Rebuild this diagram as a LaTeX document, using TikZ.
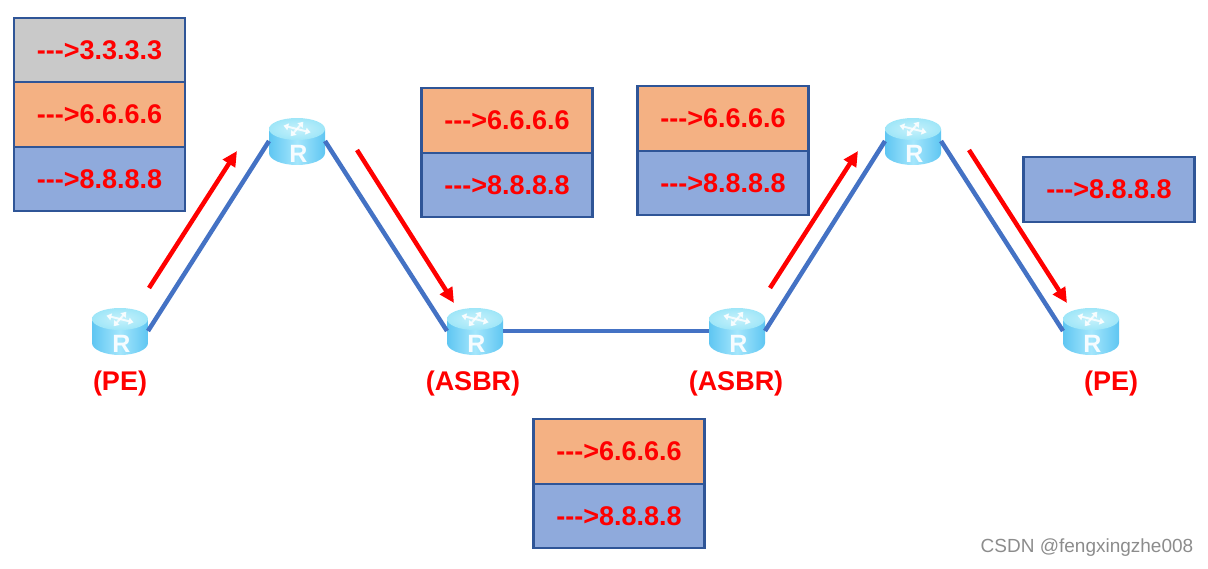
\documentclass[tikz,border=0pt]{standalone}
\usepackage{fontspec}
\usepackage{xcolor}
\usepackage{tikz}
\usetikzlibrary{positioning,arrows.meta}
\newfontfamily\labelfont{Liberation Sans}
\definecolor{boxline}{HTML}{2F5597}
\definecolor{linkblue}{HTML}{4472C4}
\definecolor{labelgray}{HTML}{C9C9C9}
\definecolor{labelorange}{HTML}{F4B183}
\definecolor{labelblue}{HTML}{8FAADC}
\definecolor{routerside}{HTML}{5FC6F2}
\definecolor{routermid}{HTML}{A4E6FC}
\definecolor{routertop}{HTML}{9FE6F8}
\definecolor{routerglow}{HTML}{C6F1FB}

\begin{document}
\begin{tikzpicture}[
  x=1pt, y=-1pt,
  every node/.style={font=\labelfont\bfseries\fontsize{27}{30}\selectfont, text=red},
  lbl/.style   ={draw=boxline, line width=2.3pt, minimum width=171pt, outer sep=0pt,
                 minimum height=64.5pt, inner sep=0pt, align=center},
  grayl/.style ={lbl, fill=labelgray},
  orgl/.style  ={lbl, fill=labelorange},
  bluel/.style ={lbl, fill=labelblue},
  router/.style={minimum width=56pt, minimum height=48pt, inner sep=0pt, outer sep=0pt,
    path picture={
      \begin{scope}[shift={(path picture bounding box.center)}]
        \path[left color=routerside, right color=routerside, middle color=routermid]
          (-28,-12) -- (-28,12) arc[start angle=180, end angle=0, x radius=28, y radius=12]
          -- (28,-12) -- cycle;
        \shade[inner color=routerglow, outer color=routertop] (0,-12) ellipse[x radius=28, y radius=11];
        \foreach \a in {25,115,205,295}
          \draw[white, opacity=.8, line width=2pt, -{Triangle[length=5pt,width=7pt]}]
            (0,-12) -- ++(\a:15 and 8);
        \node[font=\labelfont\bfseries\fontsize{25}{25}\selectfont, text=white!90!routermid] at (1.5,13) {R};
      \end{scope}
    }},
  dev/.style   ={inner sep=0pt},
  link/.style  ={draw=linkblue, line width=4.5pt},
  arr/.style   ={-{Triangle[length=15pt,width=14pt]}, draw=red, line width=4.5pt},
  mark text/.style={font=\labelfont\fontsize{19}{21}\selectfont, text=black!45}
]
\useasboundingbox (0,0) rectangle (1208,568);

%% ---- Routers -----------------------------------------------------
\node[router] (pe1)   at (120,331)  {};
\node[router] (p1)    at (297,141)  {};
\node[router] (asbr1) at (475,331)  {};
\node[router] (asbr2) at (737,331)  {};
\node[router] (p2)    at (913,141)  {};
\node[router] (pe2)   at (1091,331) {};

%% ---- Router captions ---------------------------------------------
\node[dev, below=16pt of pe1]                (pe1cap)   {(PE)};
\node[dev, below=16pt of asbr1, xshift=-2pt] (asbr1cap) {(ASBR)};
\node[dev, below=16pt of asbr2, xshift=-1pt] (asbr2cap) {(ASBR)};
\node[dev, below=16pt of pe2, xshift=20pt]   (pe2cap)   {(PE)};

%% ---- Links -------------------------------------------------------
\draw[link] (pe1.east)   -- (p1.west);
\draw[link] (p1.east)    -- (asbr1.west);
\draw[link] (asbr1.east) -- (asbr2.west);
\draw[link] (asbr2.east) -- (p2.west);
\draw[link] (p2.east)    -- (pe2.west);

%% ---- Label stacks ------------------------------------------------
\node[grayl]  (stacka) at (99.5,50) {--{}->3.3.3.3};
\node[orgl,  below=0pt of stacka] (stackb) {--{}->6.6.6.6};
\node[bluel, below=0pt of stackb] (stackc) {--{}->8.8.8.8};

\node[orgl]   (stackd) at (507,120.5) {--{}->6.6.6.6};
\node[bluel, below=0pt of stackd] (stacke) {--{}->8.8.8.8};

\node[orgl]   (stackf) at (723,118.5) {--{}->6.6.6.6};
\node[bluel, below=0pt of stackf] (stackg) {--{}->8.8.8.8};

\node[bluel]  (stackh) at (1109,189.5) {--{}->8.8.8.8};

\node[orgl]   (stacki) at (619,451.5) {--{}->6.6.6.6};
\node[bluel, below=0pt of stacki] (stackj) {--{}->8.8.8.8};

%% ---- Red arrows --------------------------------------------------
\coordinate (a1s) at (149,288);  \coordinate (a1e) at (237,151);
\coordinate (a2s) at (357,150);  \coordinate (a2e) at (454,303);
\coordinate (a3s) at (770,288);  \coordinate (a3e) at (858,151);
\coordinate (a4s) at (969,150);  \coordinate (a4e) at (1067,303);
\draw[arr] (a1s) -- (a1e);
\draw[arr] (a2s) -- (a2e);
\draw[arr] (a3s) -- (a3e);
\draw[arr] (a4s) -- (a4e);

%% ---- Watermark ---------------------------------------------------
\node[mark text] (wmark) at (1087,548) {CSDN @fengxingzhe008};

\end{tikzpicture}
\end{document}
